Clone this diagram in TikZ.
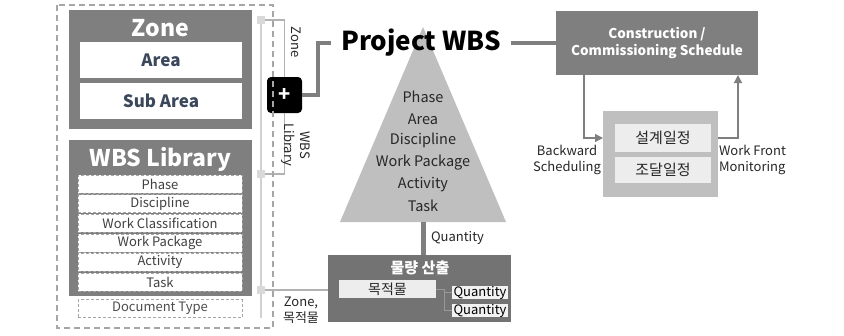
\documentclass[tikz,border=0pt]{standalone}
\usepackage{fontspec}
\setmainfont{Noto Sans CJK KR}
\usetikzlibrary{positioning}
\usetikzlibrary{arrows.meta}
\usetikzlibrary{calc}

\definecolor{boxgray}{HTML}{7F7F7F}
\definecolor{pyrgray}{HTML}{BFBFBF}
\definecolor{slate}{HTML}{3B475A}
\definecolor{txtdark}{HTML}{262626}

\begin{document}
\begin{tikzpicture}[x=1pt, y=-1pt,
    every node/.style={inner sep=0pt, outer sep=0pt, text=txtdark},
    darkbox/.style={fill=boxgray},
    title/.style={text=white, font=\fontsize{23}{26}\selectfont\bfseries},
    whitebox/.style={fill=white, text=slate, font=\fontsize{17}{20}\selectfont\bfseries, minimum width=162pt, minimum height=36pt},
    rowbox/.style={fill=white, draw=black!35, densely dashed, line width=0.6pt, minimum width=164pt, minimum height=18pt, font=\fontsize{13}{15}\selectfont, text=black!75},
    tap/.style={fill=black!15, minimum size=8pt},
    bus/.style={draw=black!18, line width=2pt},
    link/.style={draw=black!30, line width=1.1pt},
    heavy/.style={draw=boxgray, line width=4pt},
    arr/.style={draw=boxgray, line width=1.3pt, -{Triangle[length=8pt, width=8pt]}},
    small/.style={font=\fontsize{13}{16}\selectfont, align=center}]

  \useasboundingbox (0,0) rectangle (844,335);

  % Zone block
  \node[darkbox, minimum width=183pt, minimum height=119pt] (zone) at (160.5,69.5) {};
  \node[title] (zonetitle) at (160.5,28) {Zone};
  \node[whitebox] (area) at (161,60) {Area};
  \node[whitebox] (subarea) at (161,101) {Sub Area};

  % WBS library block
  \node[darkbox, minimum width=183pt, minimum height=156pt] (lib) at (160.5,218) {};
  \node[title] (libtitle) at (160.5,159) {WBS Library};
  \foreach \name [count=\i from 0] in {Phase, Discipline, Work Classification, Work Package, Activity, Task}
    \node[rowbox] (row\i) at (160, {184+19.6*\i}) {\name};
  \node[rowbox, fill=none, text=black!70] (doctype) at (160,308.5) {Document Type};

  % Bus with taps
  \coordinate (bustop) at (261,16);
  \coordinate (busbot) at (261,318);
  \draw[bus] (bustop) -- (busbot);
  \node[tap] (tapzone) at (261,20) {};
  \node[tap] (taplib) at (261,174) {};
  \node[tap] (tapqty) at (261,290) {};

  % Merge box
  \node[fill=black, rounded corners=4pt, minimum width=35pt, minimum height=36pt,
        text=white, font=\fontsize{20}{20}\selectfont\bfseries] (plus) at (284.5,95) {+};
  \draw[link] (tapzone) -| (plus.north);
  \draw[link] (taplib) -| (plus.south);
  \node[small, rotate=-90] (zonelabel) at (296,42) {Zone};
  \node[small, rotate=-90] (liblabel) at (296,145) {WBS\\Library};

  % Outer dashed frame
  \draw[draw=black!35, line width=1.5pt, dash pattern=on 6pt off 4pt] (57,5) rectangle (273,328);

  % Pyramid
  \coordinate (apex) at (423,27);
  \coordinate (pleft) at (340,222);
  \coordinate (pright) at (506,222);
  \coordinate (pbase) at (423,222);
  \fill[pyrgray] (apex) -- (pright) -- (pleft) -- cycle;
  \foreach \name [count=\i from 0] in {Phase, Area, Discipline, Work Package, Activity, Task}
    \node[font=\fontsize{14.5}{16}\selectfont] (lvl\i) at (423, {97+21.8*\i}) {\name};

  % Project WBS
  \node[text=black, font=\fontsize{26}{30}\selectfont\bfseries, inner xsep=10pt] (pwbs) at (421,43) {Project WBS};
  \draw[heavy] (plus.east) -- ++(16,0) |- (pwbs.west);

  % Schedule
  \node[darkbox, minimum width=202pt, minimum height=64pt, text=white, align=center,
        font=\fontsize{13.5}{17}\selectfont\bfseries] (cons) at (657,43) {Construction /\\Commissioning Schedule};
  \draw[heavy] (pwbs.east) -- (cons.west);
  \node[fill=pyrgray, minimum width=115pt, minimum height=86pt] (sched) at (660.5,154) {};
  \node[fill=black!7, minimum width=96pt, minimum height=28pt, font=\fontsize{15}{17}\selectfont] (design) at (663,138) {설계일정};
  \node[fill=black!7, minimum width=96pt, minimum height=26pt, font=\fontsize{15}{17}\selectfont] (procure) at (663,170) {조달일정};
  \draw[arr] ([xshift=28pt]cons.south west) |- (sched.west |- design);
  \draw[arr] (sched.east |- design) -| ([xshift=-20pt]cons.south east);
  \node[small] (backward) at (567,160) {Backward\\Scheduling};
  \node[small, anchor=west, align=left] (workfront) at (719,160) {Work Front\\Monitoring};

  % Quantity take-off
  \node[fill=black!55, minimum width=183pt, minimum height=67pt] (qbox) at (419.5,288.5) {};
  \node[text=white, font=\fontsize{15}{17}\selectfont\bfseries] (qtitle) at (420,268) {물량 산출};
  \node[fill=black!7, minimum width=97pt, minimum height=18pt, font=\fontsize{14}{16}\selectfont] (obj) at (387.5,289) {목적물};
  \node[fill=black!5, minimum width=56pt, minimum height=13pt, text=black, font=\fontsize{13}{14}\selectfont] (qty1) at (480,292.5) {Quantity};
  \node[fill=black!5, minimum width=56pt, minimum height=13pt, text=black, font=\fontsize{13}{14}\selectfont] (qty2) at (480,310.5) {Quantity};
  \draw[link, draw=black!40, line width=0.8pt] (obj.east) -- ++(8,0) coordinate (qsplit);
  \draw[link, draw=black!40, line width=0.8pt] (qsplit) |- (qty1.west);
  \draw[link, draw=black!40, line width=0.8pt] (qsplit) |- (qty2.west);
  \draw[heavy, line width=5pt] (pbase) -- (pbase |- qbox.north);
  \node[small, anchor=west] (qtylabel) at (431,238) {Quantity};
  \draw[link] (tapqty) -- (tapqty -| qbox.west);
  \node[small] (objlabel) at (301,310) {Zone,\\목적물};

\end{tikzpicture}
\end{document}
